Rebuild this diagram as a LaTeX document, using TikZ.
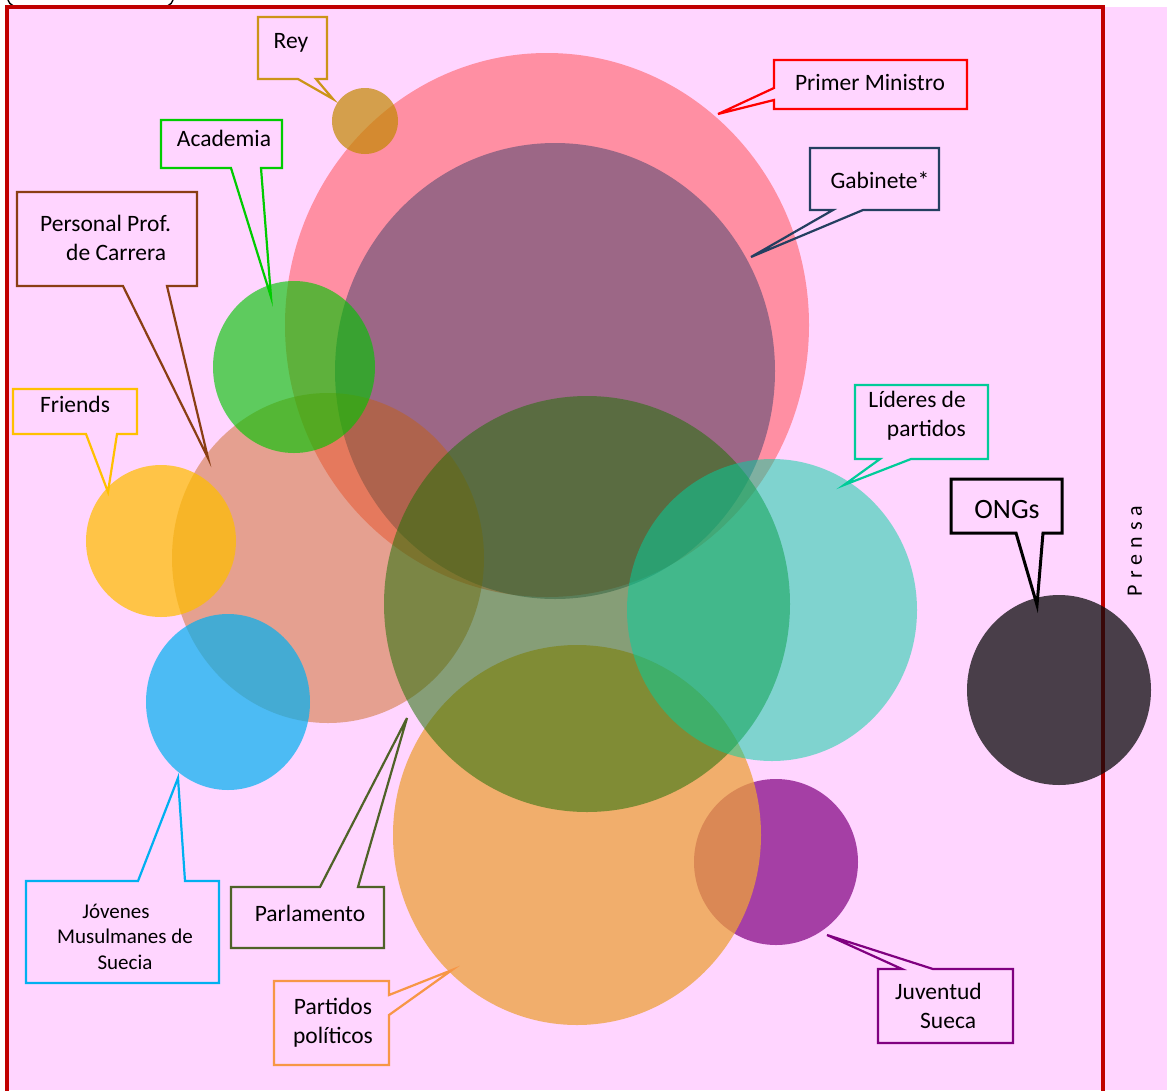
\documentclass[tikz,border=0pt]{standalone}
\usepackage{fontspec}
\setmainfont{Carlito}
\definecolor{bgpink}{RGB}{255,213,255}
\definecolor{framered}{RGB}{192,0,0}
% fills of the discs (used with partial opacity)
\definecolor{cPM}{RGB}{255,131,147}
\definecolor{cGab}{RGB}{20,50,95}
\definecolor{cRey}{RGB}{194,137,0}
\definecolor{cPers}{RGB}{198,96,9}
\definecolor{cAcad}{RGB}{0,198,0}
\definecolor{cFri}{RGB}{255,190,0}
\definecolor{cJov}{RGB}{0,176,240}
\definecolor{cJuv}{RGB}{128,0,128}
\definecolor{cPart}{RGB}{237,161,59}
\definecolor{cParl}{RGB}{36,113,9}
\definecolor{cLid}{RGB}{0,210,160}
\definecolor{cONG}{RGB}{13,12,13}
% outlines of the callouts
\definecolor{oRey}{RGB}{204,148,24}
\definecolor{oAcad}{RGB}{0,204,0}
\definecolor{oPers}{RGB}{138,62,20}
\definecolor{oFri}{RGB}{255,192,0}
\definecolor{oPM}{RGB}{255,0,0}
\definecolor{oGab}{RGB}{36,63,96}
\definecolor{oLid}{RGB}{0,204,153}
\definecolor{oParl}{RGB}{79,98,40}
\definecolor{oJov}{RGB}{0,176,240}
\definecolor{oPart}{RGB}{247,150,70}
\definecolor{oJuv}{RGB}{128,0,128}
\begin{document}
\begin{tikzpicture}[x=1pt,y=-1pt,
  disc/.style 2 args={fill=#1,fill opacity=#2},
  callout/.style={draw=#1,line width=2.2pt},
  lbl/.style={font=\fontsize{23.5}{28.5}\selectfont,inner sep=0pt,text=black,anchor=base},
  smalllbl/.style={font=\fontsize{21}{25.5}\selectfont,inner sep=0pt,text=black,anchor=base}]
\useasboundingbox (0,0) rectangle (1167,1090);
\fill[white] (0,0) rectangle (1167,1090);
\fill[bgpink] (7,7) rectangle (1167,1090);

% cut-off brackets along the top edge
\draw[black,line width=1.4pt] (8,0) .. controls (8.5,2.5) and (10.5,4.5) .. (13.5,6);
\draw[black,line width=1.4pt] (173,0) .. controls (172.5,2.5) and (170.5,4.5) .. (167.5,6);

% frame
\draw[framered,line width=4pt] (7,1096) -- (7,7) -- (1103,7) -- (1103,1096);

% discs
\fill[disc={cPM}{0.85}]   (547,325) ellipse [x radius=262pt,y radius=272pt];
\fill[disc={cGab}{0.42}]  (555,371) ellipse [x radius=220pt,y radius=228pt];
\fill[disc={cRey}{0.7}]   (365,121) circle [radius=33pt];
\fill[disc={cPers}{0.45}] (328,558) ellipse [x radius=156pt,y radius=165pt];
\fill[disc={cAcad}{0.63}] (294,367) ellipse [x radius=81pt,y radius=86pt];
\fill[disc={cFri}{0.72}]  (161,541) ellipse [x radius=75pt,y radius=76pt];
\fill[disc={cJov}{0.7}]   (228,702) ellipse [x radius=82pt,y radius=88pt];
\fill[disc={cJuv}{0.7}]   (776,862) ellipse [x radius=82pt,y radius=83pt];
\fill[disc={cPart}{0.75}] (577,835) ellipse [x radius=184pt,y radius=190pt];
\fill[disc={cParl}{0.55}] (587,604) ellipse [x radius=203pt,y radius=208pt];
\fill[disc={cLid}{0.5}]   (772,610) ellipse [x radius=145pt,y radius=151pt];
\fill[disc={cONG}{0.75}]  (1059,690) ellipse [x radius=92pt,y radius=95pt];

% callouts
\draw[callout=oRey]  (258,17) -- (327,17) -- (327,79) -- (316,79) -- (333,99) -- (298,79) -- (258,79) -- cycle;
\draw[callout=oAcad] (161,120) -- (282,120) -- (282,168) -- (261,168) -- (271,297) -- (231,168) -- (161,168) -- cycle;
\draw[callout=oPers] (17,192) -- (197,192) -- (197,286) -- (167,286) -- (208,458) -- (123,286) -- (17,286) -- cycle;
\draw[callout=oFri]  (13,389) -- (137,389) -- (137,434) -- (117,434) -- (108,492) -- (86,434) -- (13,434) -- cycle;
\draw[callout=oPM]   (774,60) -- (967,60) -- (967,109) -- (774,109) -- (774,100) -- (718,114) -- (774,88) -- cycle;
\draw[callout=oGab]  (810,148) -- (939,148) -- (939,210) -- (863,210) -- (751,257) -- (833,210) -- (810,210) -- cycle;
\draw[callout=oLid]  (855,385) -- (988,385) -- (988,459) -- (911,459) -- (844,485) -- (880,459) -- (855,459) -- cycle;
\draw[callout=black,line width=3pt] (951,479) -- (1062,479) -- (1062,533) -- (1043,533) -- (1037,605) -- (1016,533) -- (951,533) -- cycle;
\draw[callout=oParl] (231,887) -- (320,887) -- (407,718) -- (358,887) -- (384,887) -- (384,948) -- (231,948) -- cycle;
\draw[callout=oJov]  (26,881) -- (138,881) -- (178,778) -- (185,881) -- (219,881) -- (219,983) -- (26,983) -- cycle;
\draw[callout=oPart] (274,981) -- (389,981) -- (389,995) -- (452,970) -- (389,1015) -- (389,1065) -- (274,1065) -- cycle;
\draw[callout=oJuv]  (878,969) -- (902,969) -- (827,935) -- (933,969) -- (1013,969) -- (1013,1043) -- (878,1043) -- cycle;

% labels (multi-line labels are placed by the baseline of their last line)
\node[lbl] (rey) at (291,48) {Rey};
\node[lbl] (acad) at (224,146) {Academia};
\node[lbl,anchor=base west,align=left] (pers) at (40,260) {Personal Prof.\\\hspace*{26pt}de Carrera};
\node[lbl] (fri) at (75,412) {Friends};
\node[lbl] (pm) at (870,90) {Primer Ministro};
\node[lbl] (gab) at (880,188) {Gabinete*};
\node[lbl,anchor=base east,align=right] (lid) at (966,436) {Líderes de\\partidos};
\node[lbl,font=\fontsize{28}{32}\selectfont] (ong) at (1007,518) {ONGs};
\node[lbl] (parl) at (310,921) {Parlamento};
\node[smalllbl,align=center] (jov) at (125,969) {Jóvenes\hspace*{18pt}\\Musulmanes de\\Suecia};
\node[lbl,align=center] (part) at (333,1043) {Partidos\\políticos};
\node[lbl,anchor=base west,align=left] (juv) at (895,1028) {Juventud\\\hspace*{25pt}Sueca};
\node[lbl,font=\fontsize{22}{26}\selectfont,rotate=90,anchor=center] (prensa) at (1135,551)
  {P\hspace{6pt}r\hspace{6pt}e\hspace{6pt}n\hspace{6pt}s\hspace{6pt}a};
\end{tikzpicture}
\end{document}
